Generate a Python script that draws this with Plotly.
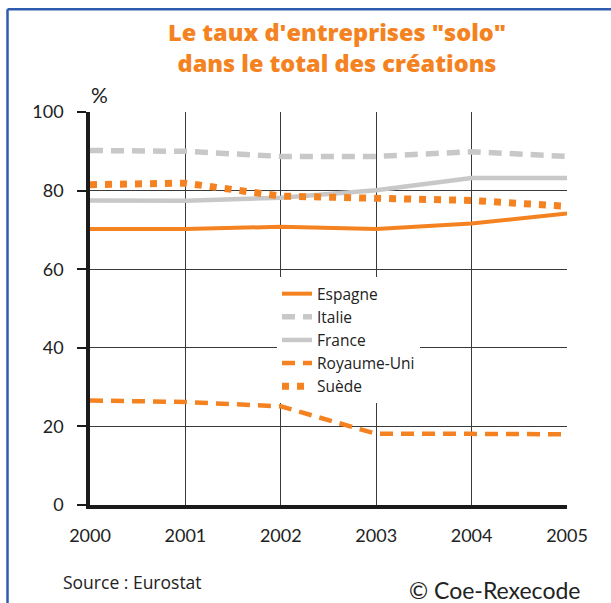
import plotly.graph_objects as go

years = [2000, 2001, 2002, 2003, 2004, 2005]
espagne = [70.2, 70.2, 70.8, 70.2, 71.6, 74.2]
italie = [90.2, 90.0, 88.7, 88.7, 89.9, 88.7]
france = [77.5, 77.4, 78.2, 80.1, 83.2, 83.2]
royaume_uni = [26.6, 26.2, 25.1, 18.1, 18.1, 18.0]
suede = [81.5, 81.9, 78.6, 78.0, 77.5, 76.0]

y_ticks = [0, 20, 40, 60, 80, 100]

ORANGE = "#F58220"
GRAY = "#C8C8C8"

W, H = 611, 603
L, R, T, B = 90, 44, 111.5, 97.5
PW, PH = W - L - R, H - T - B


def px(x):
    return (x - L) / PW


def py(y):
    return (H - B - y) / PH


fig = go.Figure()
series = [
    ("Espagne", espagne, dict(color=ORANGE, width=4)),
    ("Italie", italie, dict(color=GRAY, width=5.5, dash="13px,8px")),
    ("France", france, dict(color=GRAY, width=4.5)),
    ("Royaume-Uni", royaume_uni, dict(color=ORANGE, width=4.5, dash="13px,8px")),
    ("Suède", suede, dict(color=ORANGE, width=7, dash="7px,8px")),
]
for name, vals, line in series:
    fig.add_trace(go.Scatter(x=years, y=vals, name=name, mode="lines", line=line,
                             hoverinfo="skip"))

fig.update_layout(
    width=W, height=H,
    margin=dict(l=L, r=R, t=T, b=B, autoexpand=False),
    paper_bgcolor="white", plot_bgcolor="white",
    font=dict(family="Lato, 'Noto Sans', sans-serif", size=18, color="#222"),
    showlegend=True,
    legend=dict(x=px(277), y=py(277), xanchor="left", yanchor="top",
                bgcolor="white", borderwidth=0,
                font=dict(family="'Open Sans', Lato, sans-serif", size=15.5,
                          color="#222"), tracegroupgap=0),
)
fig.update_xaxes(range=[2000, 2005], tickvals=years, ticktext=[str(y) for y in years],
                 showgrid=True, gridcolor="#3a3a3a", gridwidth=1.2,
                 showline=True, linecolor="#1a1a1a", linewidth=3.5,
                 ticks="", zeroline=False, ticklabelstandoff=12,
                 tickfont=dict(size=18))
fig.update_yaxes(range=[0, 100], tickvals=y_ticks,
                 showgrid=True, gridcolor="#3a3a3a", gridwidth=1.2,
                 showline=True, linecolor="#1a1a1a", linewidth=3.5,
                 ticks="outside", ticklen=9, tickwidth=1.5, tickcolor="#1a1a1a",
                 zeroline=False, ticklabelstandoff=10, tickfont=dict(size=18))

fig.add_annotation(text="Le taux d'entreprises \"solo\"<br>dans le total des créations",
                   xref="paper", yref="paper", x=px(337), y=py(47),
                   xanchor="center", yanchor="middle", align="center",
                   showarrow=False,
                   font=dict(family="'Open Sans', Lato, sans-serif", size=23.5,
                             color=ORANGE, weight=800))

fig.add_annotation(text="%", xref="paper", yref="paper", x=px(89), y=py(108),
                   xanchor="left", yanchor="bottom", showarrow=False,
                   font=dict(size=21, color="#222"))
fig.add_annotation(text="Source : Eurostat", xref="paper", yref="paper",
                   x=px(61), y=py(583), xanchor="left", yanchor="middle",
                   showarrow=False,
                   font=dict(family="'Open Sans', Lato, sans-serif", size=17.5,
                             color="#222"))
fig.add_annotation(text="© Coe-Rexecode", xref="paper", yref="paper",
                   x=px(582), y=py(591), xanchor="right", yanchor="middle",
                   showarrow=False, font=dict(size=23, color="#222"))

fig.add_shape(type="line", xref="paper", yref="paper",
              x0=px(7.5), x1=px(640), y0=py(8.5), y1=py(8.5),
              line=dict(color="#2E5CB0", width=2.5), layer="above")
fig.add_shape(type="line", xref="paper", yref="paper",
              x0=px(7.5), x1=px(7.5), y0=py(8.5), y1=py(640),
              line=dict(color="#2E5CB0", width=2.5), layer="above")

fig.write_html("out.html", config={"displayModeBar": False},
               post_script="document.body.style.margin='0px';"
                           "document.body.style.overflow='hidden';")
